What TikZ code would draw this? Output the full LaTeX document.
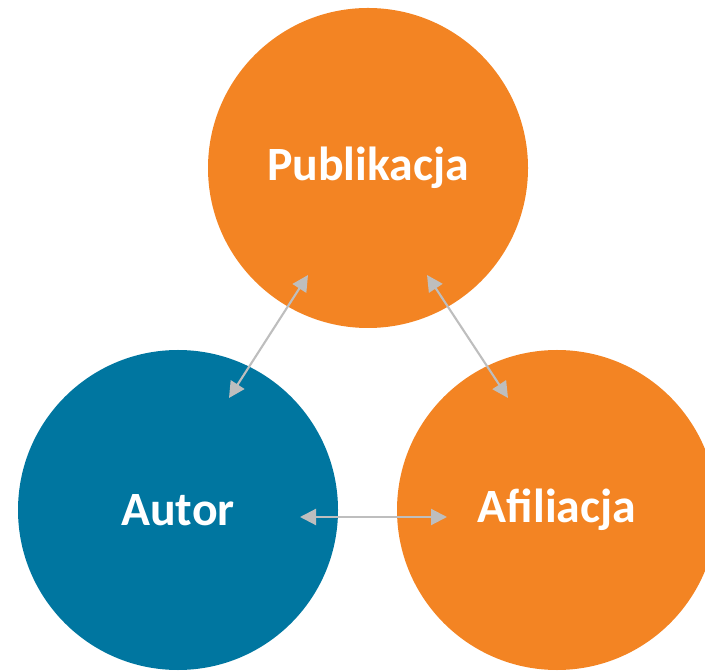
\documentclass[tikz,border=0pt]{standalone}
\usepackage{fontspec}
\setmainfont{Carlito}
\usetikzlibrary{arrows.meta}
\definecolor{kolpom}{HTML}{F38423}
\definecolor{kolnieb}{HTML}{0076A0}
\definecolor{kolstr}{HTML}{BEBEBE}
\begin{document}
\begin{tikzpicture}[
		kolo/.style = {circle, minimum size=3.2cm, inner sep=0pt, text=white,
			font=\fontsize{13.6}{16}\selectfont\bfseries},
		strzalka/.style = {draw=kolstr, line width=0.6pt,
			{Triangle[length=1.6mm,width=1.6mm]}-{Triangle[length=1.6mm,width=1.6mm]}}
	]
	\useasboundingbox (0,0) rectangle (7.05,6.70);
	\clip (0,0) rectangle (7.05,6.70);

	% kola
	\node[kolo, fill=kolpom]  (pub) at (3.68,5.02) {Publikacja};
	\node[kolo, fill=kolnieb] (aut) at (1.78,1.60) {Autor};
	\node[kolo, fill=kolpom]  (afi) at (5.57,1.60) {Afiliacja};

	% konce strzalek
	\coordinate (pub-l) at (3.08,3.95);
	\coordinate (pub-p) at (4.27,3.95);
	\coordinate (aut-g) at (2.29,2.72);
	\coordinate (aut-p) at (3.00,1.53);
	\coordinate (afi-g) at (5.08,2.72);
	\coordinate (afi-l) at (4.47,1.53);

	\draw[strzalka] (pub-l) -- (aut-g);
	\draw[strzalka] (pub-p) -- (afi-g);
	\draw[strzalka] (aut-p) -- (afi-l);
\end{tikzpicture}
\end{document}
